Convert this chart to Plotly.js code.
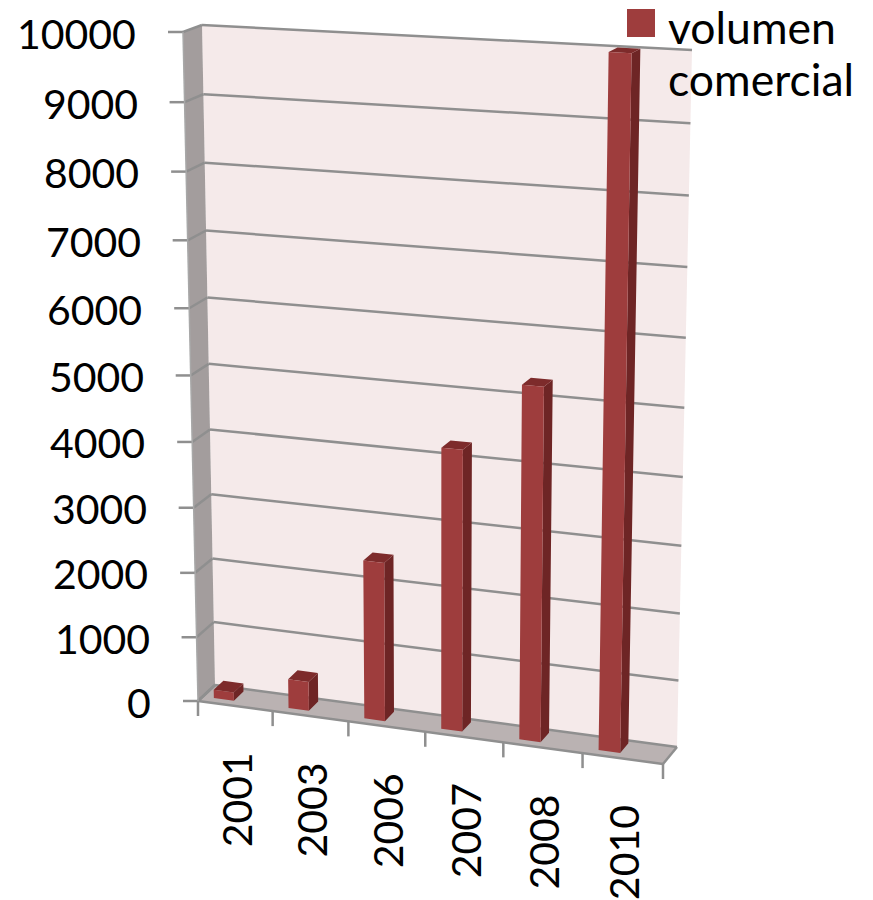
<!DOCTYPE html>
<html>
<head>
<meta charset="utf-8">
<script src="https://cdn.plot.ly/plotly-3.0.1.min.js"></script>
<style>html,body{margin:0;padding:0;background:#fff}#chart{width:873px;height:900px}</style>
</head>
<body>
<div id="chart"></div>
<script>
// Trade volume by year, drawn as a 3-D column chart on a 2-D plot.
const years = ['2001', '2003', '2006', '2007', '2008', '2010'];
const volumes = [130, 450, 2420, 4230, 5260, 10000];
const valueTicks = [0, 1000, 2000, 3000, 4000, 5000, 6000, 7000, 8000, 9000, 10000];
const seriesName = ['volumen', 'comercial'];
const axisMax = 10000;

// Box corners on screen, named by [side][height][depth].
const box = {
  lbf: [198, 701], lbb: [215, 685], ltf: [183, 32], ltb: [202, 25],
  rbf: [663, 764], rbb: [677, 747], rtf: [677, 58], rtb: [692, 50]
};
const warp = (t, k) => t / (k + (1 - k) * t);   // foreshortening along one axis
const mix = (a, b, t) => [a[0] + (b[0] - a[0]) * t, a[1] + (b[1] - a[1]) * t];

// u: along the categories, value: data units, w: 0 front .. 1 back wall
function project(u, value, w) {
  const su = warp(u, 1.046), sv = warp(value / axisMax, 1.055);
  const bottom = mix(mix(box.lbf, box.lbb, w), mix(box.rbf, box.rbb, w), su);
  const top = mix(mix(box.ltf, box.ltb, w), mix(box.rtf, box.rtb, w), su);
  return mix(bottom, top, sv);
}

// Collects polygons or segments into one trace, separated by gaps
function pathTrace(paths, style) {
  const x = [], y = [];
  paths.forEach(p => {
    p.forEach(q => { x.push(q[0]); y.push(q[1]); });
    x.push(null); y.push(null);
  });
  return Object.assign({type: 'scatter', x, y, hoverinfo: 'skip', showlegend: false, cliponaxis: false}, style);
}
const filled = (paths, color) => pathTrace(paths.map(p => p.concat([p[0]])),
  {mode: 'lines', fill: 'toself', fillcolor: color, line: {width: 0, color: color}});
const stroked = (paths, color, width) => pathTrace(paths,
  {mode: 'lines', line: {color: color, width: width}});

const n = years.length;
const gridColor = '#8f8f8f';

// Walls and floor
const backWall = [project(0, 0, 1), project(1, 0, 1), project(1, axisMax, 1), project(0, axisMax, 1)];
const sideWall = [project(0, 0, 0), project(0, 0, 1), project(0, axisMax, 1), project(0, axisMax, 0)];
const floorPlane = [project(0, 0, 0), project(1, 0, 0), project(1, 0, 1), project(0, 0, 1)];

// Gridlines across the back wall and the side wall, plus tick stubs
const backGrid = valueTicks.map(v => [project(0, v, 1), project(1, v, 1)]);
const sideGrid = valueTicks.map(v => [project(0, v, 0), project(0, v, 1)]);
const valueStubs = valueTicks.map(v => {
  const p = project(0, v, 0);
  return [p, [p[0] - 15, p[1]]];
});
const categoryStubs = [];
for (let i = 0; i <= n; i++) {
  const p = project(i / n, 0, 0);
  categoryStubs.push([p, [p[0], p[1] + 15]]);
}
const floorEdges = [
  [project(0, 0, 0), project(1, 0, 0)],
  [project(1, 0, 0), project(1, 0, 1)],
  [project(0, 0, 0), project(0, 0, 1)]
];

// Column faces: position inside each category slot and in depth
const barFrom = 0.15, barTo = 0.42, depthFront = 0.28, depthBack = 0.85;
const frontFaces = [], sideFaces = [], topFaces = [];
volumes.forEach((v, i) => {
  const a = (i + barFrom) / n, b = (i + barTo) / n;
  frontFaces.push([project(a, 0, depthFront), project(b, 0, depthFront), project(b, v, depthFront), project(a, v, depthFront)]);
  sideFaces.push([project(b, 0, depthFront), project(b, 0, depthBack), project(b, v, depthBack), project(b, v, depthFront)]);
  topFaces.push([project(a, v, depthFront), project(b, v, depthFront), project(b, v, depthBack), project(a, v, depthBack)]);
});

const barColor = '#9e3d3d';
const traces = [
  filled([backWall], '#f5eaea'),
  filled([sideWall], '#a39d9d'),
  filled([floorPlane], '#bab2b2'),
  stroked(backGrid, gridColor, 2.5),
  stroked(sideGrid, gridColor, 2.5),
  stroked(valueStubs, gridColor, 2.5),
  stroked(categoryStubs, gridColor, 2.5),
  stroked(floorEdges, gridColor, 2.5),
  stroked([[project(0, 0, 0), project(0, axisMax, 0)]], '#a8a8a8', 1.5),
  filled(sideFaces, '#6e2525'),
  filled(topFaces, '#7d2b2b'),
  filled(frontFaces, barColor),
  // Legend swatch
  {type: 'scatter', mode: 'markers', x: [641], y: [23], hoverinfo: 'skip', showlegend: false,
   marker: {symbol: 'square', size: 28, color: barColor}}
];

const annotations = [];
const addText = (text, x, y, opts) => annotations.push(Object.assign({
  text, x, y, xref: 'x', yref: 'y', showarrow: false,
  xanchor: 'center', yanchor: 'middle', borderpad: 0
}, opts));

// Value labels lean with the side wall
valueTicks.forEach(v => {
  const p = project(0, v, 0);
  addText(String(v), 152 - 15 * v / axisMax, p[1] + 1, {xanchor: 'right',
    font: {family: 'Lato', size: 41, color: '#000'}});
});
years.forEach((y, i) => {
  const p = project((i + 0.5) / n, 0, 0);
  addText(y, p[0] + 1, p[1] + 94, {textangle: -90,
    font: {family: 'Lato', size: 41, color: '#000'}});
});
addText(seriesName[0], 667, 26, {xanchor: 'left', font: {family: 'Lato', size: 44.5, color: '#000'}});
addText(seriesName[1], 667, 78, {xanchor: 'left', font: {family: 'Lato', size: 44.5, color: '#000'}});

const hidden = {visible: false, fixedrange: true};
Plotly.newPlot('chart', traces, {
  width: 873, height: 900,
  margin: {l: 0, r: 0, t: 0, b: 0},
  paper_bgcolor: '#fff', plot_bgcolor: '#fff',
  showlegend: false,
  xaxis: Object.assign({range: [0, 873]}, hidden),
  yaxis: Object.assign({range: [900, 0]}, hidden),
  annotations
}, {displayModeBar: false, staticPlot: true});
</script>
</body>
</html>
